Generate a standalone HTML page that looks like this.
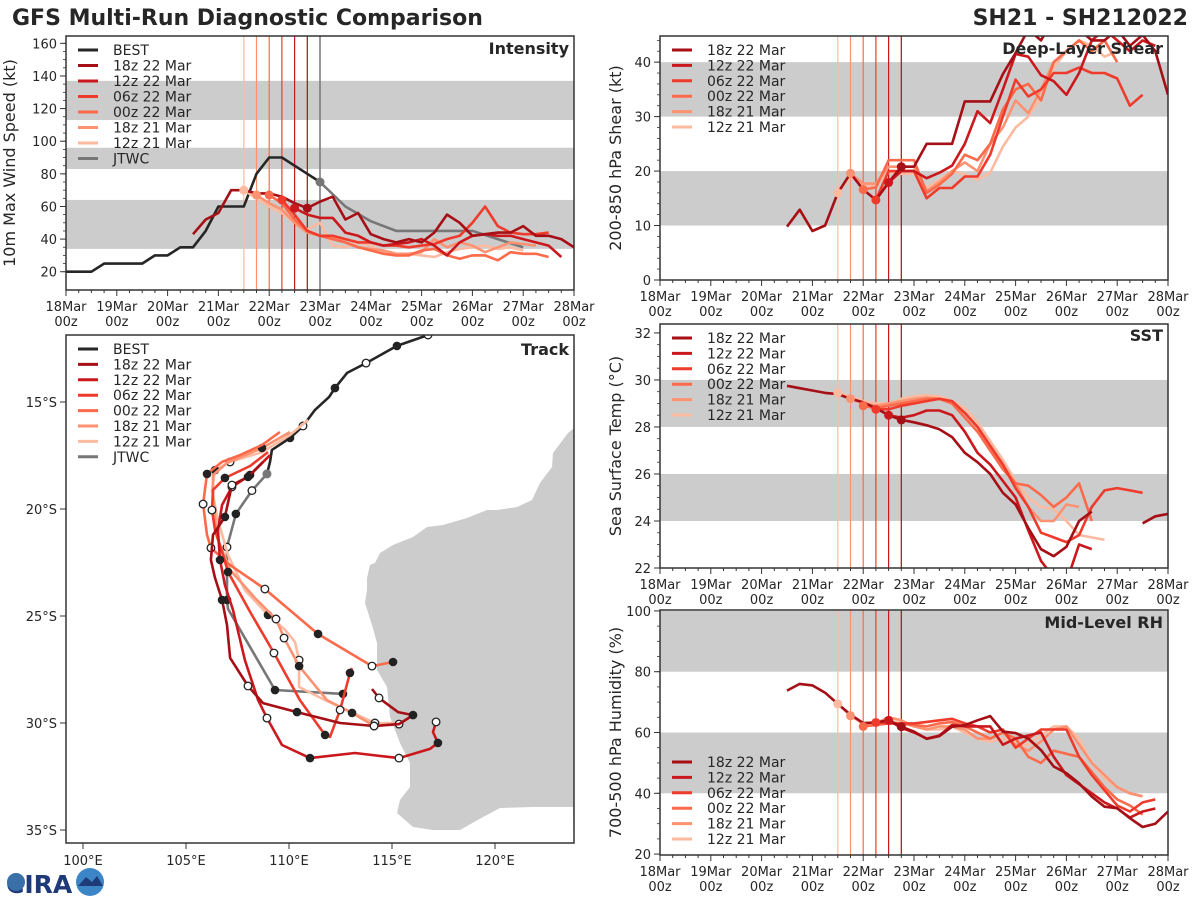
<!DOCTYPE html>
<html><head><meta charset="utf-8"><style>
html,body{margin:0;padding:0;background:#fff;}
svg{display:block;font-family:"DejaVu Sans","Liberation Sans",sans-serif;}
</style></head><body>
<svg id="fig" width="1200" height="900" viewBox="0 0 1200 900">
<text x="12" y="25" font-size="22" font-weight="bold" fill="#262626">GFS Multi-Run Diagnostic Comparison</text>
<text x="1188" y="25" font-size="22" font-weight="bold" fill="#262626" text-anchor="end">SH21 - SH212022</text>
<g>
<text x="6" y="893" font-size="25" font-weight="bold" fill="#1f3a78">CIRA</text>
<circle cx="16" cy="882" r="9" fill="#3a6fa8"/>
<circle cx="90" cy="882" r="14" fill="#3c86c8"/>
<path d="M78 886 L86 877 L92 882 L97 876 L103 886 Z" fill="#1f3a78"/>
</g>
</svg>
<script>
// ---------------- DATA ----------------
const runNames = ["18z 22 Mar","12z 22 Mar","06z 22 Mar","00z 22 Mar","18z 21 Mar","12z 21 Mar"];
const runInitHours = [114,108,102,96,90,84];
const dayLabels = ["18Mar","19Mar","20Mar","21Mar","22Mar","23Mar","24Mar","25Mar","26Mar","27Mar","28Mar"];

// Intensity (kt), 6-hourly from start hour
const intBestStart = 0;
const intBest = [20,20,20,25,25,25,25,30,30,35,35,45,60,60,60,80,90,90,85,80,75];
const intJtwcStart = 120;
const intJtwc = [75,60,51,45,45,45,45,40,35]; // 12-hourly
const intStarts = [60,108,102,96,90,84];
const int18z22 = [43,52,56,70,70,68,68,66,62,59,63,66,52,56,43,40,38,40,38,44,55,50,42,43,44,44,48,42,42,40,35,30];
const int12z22 = [59,55,53,53,44,42,38,36,37,38,40,36,30,38,42,43,42,42,40,38,36,29];
const int06z22 = [64,55,45,42,42,40,38,38,36,36,35,36,37,40,42,50,60,48,44,43,43,44];
const int00z22 = [67,62,52,45,42,40,38,35,33,31,30,30,33,34,30,28,30,30,27,32,31,31,29];
const int18z21 = [67,62,58,50,44,42,41,38,35,34,33,31,31,32,40,35,38,36,32,35,38,37,36];
const int12z21 = [70,65,60,56,50,46,50,36,35,38,36,32,30,31,30,29,32,34,35,36,34,35,33];

// Deep-layer shear (kt)
const shrStarts = [60,102,102,96,90,84];
const shr18z22 = [9.8,12.9,9,10,16,19.6,16.6,14.7,17.9,20.8,20.8,25,25,25,32.8,32.8,32.8,37.8,41.7,46,44,48,47,46,44,44,46,43,45,42,34];
const shr12z22 = [14.7,17.9,20,20,18.7,19.7,21,25,31,28.8,35,41.5,41,37.6,36.5,34,38,44,46,44,42,44,43];
const shr06z22 = [14.7,20,20,20,15,16.9,16.9,19,19,23,30,36.8,33.7,35,38,38,39,38,38,37,32,34];
const shr00z22 = [16.6,17,22,22,22,16,17.5,19.5,23,22,25,31.3,35,36,33,40,42,44,42,44,40];
const shr18z21 = [19.6,17.7,17.7,20.8,20.8,20.8,16.3,18,20,21.6,20,25,28,33,30.6,35,40,42,44,42,44,40];
const shr12z21 = [16,19,17.4,17.4,19.7,19.5,19.5,16.9,18.4,20,19.4,18.4,19.7,24.5,28,30,33.6,39,42,44,43,41,42];

// SST (deg C)
const sstStarts = [60,108,102,96,90,84];
const sst18z22 = [29.75,29.65,29.55,29.45,29.4,29.2,29.05,28.8,28.5,28.3,28.2,28.07,27.9,27.57,26.9,26.5,26.0,25.2,24.7,23.7,22.8,22.5,22.9,24.0,24.4,null,null,null,23.9,24.2,24.3];
const sst12z22 = [28.5,28.4,28.5,28.7,28.7,28.5,27.8,26.9,26.4,25.7,25.0,23.6,22.3,21.6,21.4,23.0,22.8];
const sst06z22 = [28.75,28.75,28.9,29.0,29.1,29.2,29.1,28.6,28.0,27.2,26.4,25.4,24.6,23.5,23.3,23.1,23.4,24.6,25.3,25.4,25.3,25.2];
const sst00z22 = [28.9,28.8,28.9,29.0,29.1,29.2,29.2,29.0,28.4,27.8,27.0,26.2,25.6,25.5,25.1,24.6,25.0,25.6,24.0];
const sst18z21 = [29.2,29.0,28.9,29.0,29.1,29.2,29.25,29.2,29.0,28.6,28.0,27.2,26.4,25.6,24.6,24.0,24.0,24.7,24.6];
const sst12z21 = [29.45,29.3,29.1,29.0,29.0,29.2,29.3,29.35,29.3,29.1,28.8,28.2,27.4,26.6,25.7,25.0,24.6,24.5,24.0,23.4,23.3,23.2];

// Mid-level RH (%)
const rhStarts = [60,108,102,96,90,84];
const rh18z22 = [73.8,76,75.5,73.1,69.4,65.9,63.1,63.3,64,61.9,60.3,57.9,58.8,61.9,62.4,64,65.4,60.3,59.8,58,54.2,48.8,46.6,43.3,38.9,35.6,35.1,31.8,28.9,30,34];
const rh12z22 = [64,61.5,60,58,59,62.5,62,62,62,56,58,59,60,52,46,43,40,37,35,32,34,35];
const rh06z22 = [63.3,63,63,63,63.5,64,64.5,63,62,60,61,55,58,61,61,61,52,46,41,36,34,37,38];
const rh00z22 = [62,62.5,63,63,62.5,62,63,63.5,62,60,58,60,58,52,50,54,53,52,47,42,38,36,33];
const rh18z21 = [65.5,63,63,65,64,62,61,62,62,61,58,58,60,56,54,57,61,62,56,50,46,42,40,39];
const rh12z21 = [69.4,65.5,63,63.5,64,63,62,61,61,62,60,58,57,58,56,56,59,62,62,58,50,45,42,40,39];

// Tracks (longitude E, latitude S)
const trkBestLon = [116.75,115.24,113.74,112.82,112.23,111.94,111.26,110.68,110.05,109.17,109.08,108.93];
const trkBestLat = [11.87,12.38,13.18,13.64,14.35,14.77,15.37,16.12,16.68,17.24,17.80,18.36];
const trkJtwcLon = [108.93,108.2,107.42,106.99,106.99,107.04,109.32,112.62];
const trkJtwcLat = [18.36,19.14,20.23,21.78,24.25,24.67,28.46,28.64];
const trk18z22Lon = [108.74,108.01,107.23,106.89,106.31,106.21,106.41,106.75,106.99,107.14,108.01,108.74,110.39,112.48,114.13,115.34,116.02,115.29,114.37,114.03];
const trk18z22Lat = [17.80,18.50,18.88,20.37,21.21,22.38,23.22,24.25,25.42,26.96,28.27,29.07,29.49,30.0,30.14,30.05,29.63,29.49,28.83,28.41];
const trk12z22Lon = [109.08,108.11,107.23,106.75,106.55,106.65,106.89,107.28,107.86,108.50,108.93,109.66,111.02,113.20,115.34,116.84,117.23,116.99,117.14];
const trk12z22Lat = [17.48,18.41,18.97,19.81,20.98,22.38,23.55,24.72,27.06,28.93,29.77,31.03,31.64,31.40,31.64,31.21,30.93,30.42,29.95];
const trk06z22Lon = [108.98,108.11,106.89,106.31,106.26,106.41,106.75,107.04,108.11,109.27,110.53,111.75,111.99,112.48,112.96,113.06];
const trk06z22Lat = [17.34,17.99,18.55,19.11,20.05,20.98,22.01,22.94,24.81,26.73,28.93,30.56,30.65,29.39,27.66,27.43];
const trk00z22Lon = [109.56,108.69,107.62,106.75,106.02,105.83,106.02,106.21,107.14,108.83,111.41,114.03,115.05];
const trk00z22Lat = [16.40,17.01,17.48,17.80,18.36,19.77,21.21,21.82,22.62,23.74,25.84,27.34,27.15];
const trk18z21Lon = [110.05,108.69,106.99,106.31,106.31,106.50,107.14,108.35,109.37,109.76,110.49,111.84,113.06,114.13,115.34,116.02];
const trk18z21Lat = [16.40,17.15,17.85,18.41,19.35,21.31,22.85,24.16,25.14,26.03,27.34,28.93,29.53,30.14,30.05,29.63];
const trk12z21Lon = [110.92,110.05,108.69,107.14,106.41,106.26,106.55,107.04,107.86,108.98,109.81,110.29,110.49,110.49,111.75,114.17,115.39];
const trk12z21Lat = [15.84,16.54,17.34,17.80,18.18,19.11,20.51,22.15,23.79,24.95,25.65,26.21,27.06,28.32,28.93,30.0,30.0];
// marker indices: black = filled, white = open
const mkBestBlack = [1,4,8], mkBestWhite = [0,2,7];
const mkJtwcBlack = [2,4,6,7], mkJtwcWhite = [1,3];
const mkRunBlack = [[1,3,7,12,16],[1,5,12,16],[2,7,11,14],[4,10,12],[1,10,12],[4,9]];
const mkRunWhite = [[2,10,14,18],[2,10,14,18],[4,9,13],[5,7,9,11],[8,9,13,14],[3,12,15]];

// ---------------- DRAWING ----------------
const NS = "http://www.w3.org/2000/svg";
const svg = document.getElementById("fig");
const runColors = ["#a50f15","#cb181d","#ef3b2c","#fb6a4a","#fc9272","#fcbba1"];
function mk(tag, attrs, parent) {
  const e = document.createElementNS(NS, tag);
  for (const k in attrs) e.setAttribute(k, attrs[k]);
  (parent || svg).appendChild(e);
  return e;
}
function txt(x, y, s, size, anchor, parent, weight) {
  const t = mk("text", {x: x, y: y, "font-size": size, "text-anchor": anchor || "start", fill: "#262626"}, parent);
  if (weight) t.setAttribute("font-weight", weight);
  t.textContent = s;
  return t;
}
let clipId = 0;

function timePanel(cfg) {
  const g = mk("g", {});
  
  
  const L = cfg.l, T = cfg.t, W = cfg.w, H = cfg.h;
  const xs = h => L + h / 240 * W;
  const ys = v => T + H - (v - cfg.ymin) / (cfg.ymax - cfg.ymin) * H;
  const cid = "clip" + (clipId++);
  const cp = mk("clipPath", {id: cid}, g);
  mk("rect", {x: L, y: T, width: W, height: H}, cp);
  const inner = mk("g", {"clip-path": "url(#" + cid + ")"}, g);
  cfg.bands.forEach(b => {
    const r = mk("rect", {x: L, y: ys(b[1]), width: W, height: ys(b[0]) - ys(b[1]), fill: "#cccccc"}, inner);
    
    
  });
  runInitHours.forEach((h, i) => {
    const l = mk("line", {x1: xs(h), x2: xs(h), y1: T, y2: T + H, stroke: runColors[i], "stroke-width": 1.2}, inner);
    
    
  });
  if (cfg.jtwcLine) {
    const l = mk("line", {x1: xs(120), x2: xs(120), y1: T, y2: T + H, stroke: "#777", "stroke-width": 1.5}, inner);
    
    
  }
  function series(start, step, vals, color, name, width) {
    let d = "", pen = false;
    vals.forEach((v, i) => {
      if (v === null) { pen = false; return; }
      d += (pen ? "L" : "M") + xs(start + i * step).toFixed(1) + " " + ys(v).toFixed(1);
      pen = true;
    });
    const p = mk("path", {d: d, fill: "none", stroke: color, "stroke-width": width || 2.6, "stroke-linejoin": "round"}, inner);
    
    
  }
  if (cfg.best) series(intBestStart, 6, intBest, "#262626", "best-line");
  if (cfg.jtwc) series(intJtwcStart, 12, intJtwc, "#777", "jtwc-line");
  for (let i = 5; i >= 0; i--) series(cfg.starts[i], 6, cfg.runs[i], runColors[i], "run-line-" + runNames[i].replace(/ /g, "").toLowerCase());
  for (let i = 5; i >= 0; i--) {
    const idx = (runInitHours[i] - cfg.starts[i]) / 6;
    const v = cfg.runs[i][idx];
    if (v == null) continue;
    const c = mk("circle", {cx: xs(runInitHours[i]), cy: ys(v), r: 4.5, fill: runColors[i]}, inner);
    
    
  }
  if (cfg.jtwc) {
    const c = mk("circle", {cx: xs(120), cy: ys(intJtwc[0]), r: 4.5, fill: "#777"}, inner);
    
    
  }
  const fr = mk("rect", {x: L, y: T, width: W, height: H, fill: "none", stroke: "#333", "stroke-width": 1.5}, g);
  
  
  for (let h = 0; h <= 240; h += 6) {
    const major = h % 24 === 0;
    mk("line", {x1: xs(h), x2: xs(h), y1: T + H, y2: T + H + (major ? 6 : 3), stroke: "#333", "stroke-width": 1}, g);
    if (major) {
      const t1 = txt(xs(h), T + H + 21, dayLabels[h / 24], 13, "middle", g);
      
      
      const t2 = txt(xs(h), T + H + 36, "00z", 13, "middle", g);
      
      
    }
  }
  cfg.yticks.forEach(v => {
    mk("line", {x1: L - 6, x2: L, y1: ys(v), y2: ys(v), stroke: "#333", "stroke-width": 1}, g);
    const t = txt(L - 9, ys(v) + 5, String(v), 13, "end", g);
    
    
  });
  for (let v = cfg.yticks[0]; v <= cfg.ymax; v += cfg.minor) {
    if (v < cfg.ymin) continue;
    mk("line", {x1: L - 3, x2: L, y1: ys(v), y2: ys(v), stroke: "#333", "stroke-width": 0.8}, g);
  }
  const yl = txt(0, 0, cfg.ylabel, 16, "middle", g);
  yl.setAttribute("transform", "translate(" + cfg.ylx + "," + (T + H / 2) + ") rotate(-90)");
  
  
  const pt = txt(L + W - 5, cfg.titleY, cfg.title, 16, "end", g, "bold");
  
  
  const entries = [];
  if (cfg.best) entries.push(["BEST", "#262626"]);
  runNames.forEach((n, i) => entries.push([n, runColors[i]]));
  if (cfg.jtwc) entries.push(["JTWC", "#777"]);
  entries.forEach((e, i) => {
    const y = cfg.legY + i * cfg.legDy;
    const lg = mk("g", {}, g);
    
    
    mk("line", {x1: L + 12, x2: L + 32, y1: y, y2: y, stroke: e[1], "stroke-width": 3}, lg);
    txt(L + 47, y + 5, e[0], 14, "start", lg);
  });
}

timePanel({name: "intensity-panel", l: 66, t: 36, w: 508, h: 254, ymin: 8.8, ymax: 164.5,
  bands: [[34, 64], [83, 96], [113, 137]], yticks: [20,40,60,80,100,120,140,160], minor: 5,
  best: true, jtwc: true, jtwcLine: true,
  starts: intStarts, runs: [int18z22,int12z22,int06z22,int00z22,int18z21,int12z21],
  ylabel: "10m Max Wind Speed (kt)", ylx: 15, title: "Intensity", titleY: 54, legY: 50, legDy: 15.5});
timePanel({name: "shear-panel", l: 660, t: 36, w: 508, h: 244, ymin: 0, ymax: 44.8,
  bands: [[10, 20], [30, 40]], yticks: [0,10,20,30,40], minor: 2,
  starts: shrStarts, runs: [shr18z22,shr12z22,shr06z22,shr00z22,shr18z21,shr12z21],
  ylabel: "200-850 hPa Shear (kt)", ylx: 621, title: "Deep-Layer Shear", titleY: 54, legY: 50, legDy: 15.4});
timePanel({name: "sst-panel", l: 660, t: 324, w: 508, h: 244, ymin: 22, ymax: 32.38,
  bands: [[24, 26], [28, 30]], yticks: [22,24,26,28,30,32], minor: 0.5,
  starts: sstStarts, runs: [sst18z22,sst12z22,sst06z22,sst00z22,sst18z21,sst12z21],
  ylabel: "Sea Surface Temp (°C)", ylx: 621, title: "SST", titleY: 341, legY: 338, legDy: 15.4});
timePanel({name: "rh-panel", l: 660, t: 610, w: 508, h: 245, ymin: 19.7, ymax: 100.3,
  bands: [[40, 60], [80, 100]], yticks: [20,40,60,80,100], minor: 5,
  starts: rhStarts, runs: [rh18z22,rh12z22,rh06z22,rh00z22,rh18z21,rh12z21],
  ylabel: "700-500 hPa Humidity (%)", ylx: 621, title: "Mid-Level RH", titleY: 628, legY: 762, legDy: 15.4});

// ---------------- TRACK MAP ----------------
(function () {
  const L = 66, T = 335, W = 508, H = 508;
  const lonx = lon => 83 + (lon - 100) * 20.6;
  const laty = lat => 402 + (lat - 15) * 21.4;
  const g = mk("g", {});
  
  
  const cp = mk("clipPath", {id: "trkclip"}, g);
  mk("rect", {x: L, y: T, width: W, height: H}, cp);
  const inner = mk("g", {"clip-path": "url(#trkclip)"}, g);
  const land = mk("polygon", {fill: "#cccccc", points:
    "568,433 574,428 590,420 590,860 574,860 573,807 533,807 500,808 483,817 460,830 433,830 413,827 397,813 400,800 410,787 410,763 400,743 390,717 387,687 377,670 377,643 372,625 365,603 367,590 367,578 370,565 375,563 380,553 393,545 413,537 427,527 443,525 467,518 487,510 497,510 517,507 532,500 540,483 552,467 553,453"}, inner);
  
  
  function track(lons, lats, color, name, blacks, whites) {
    const d = lons.map((lo, i) => (i ? "L" : "M") + lonx(lo).toFixed(1) + " " + laty(lats[i]).toFixed(1)).join("");
    const p = mk("path", {d: d, fill: "none", stroke: color, "stroke-width": 2.6, "stroke-linejoin": "round"}, inner);
    
    
    blacks.forEach(i => {
      if (i >= lons.length) return;
      const c = mk("circle", {cx: lonx(lons[i]), cy: laty(lats[i]), r: 4.3, fill: "#222"}, inner);
      
      
    });
    whites.forEach(i => {
      if (i >= lons.length) return;
      const c = mk("circle", {cx: lonx(lons[i]), cy: laty(lats[i]), r: 3.8, fill: "#fff", stroke: "#222", "stroke-width": 1.3}, inner);
      
      
    });
  }
  const lonsArr = [trk18z22Lon,trk12z22Lon,trk06z22Lon,trk00z22Lon,trk18z21Lon,trk12z21Lon];
  const latsArr = [trk18z22Lat,trk12z22Lat,trk06z22Lat,trk00z22Lat,trk18z21Lat,trk12z21Lat];
  track(trkBestLon, trkBestLat, "#262626", "best-track", mkBestBlack, mkBestWhite);
  track(trkJtwcLon, trkJtwcLat, "#777", "jtwc-track", mkJtwcBlack, mkJtwcWhite);
  for (let i = 5; i >= 0; i--) track(lonsArr[i], latsArr[i], runColors[i], "run-track-" + runNames[i].replace(/ /g, "").toLowerCase(), mkRunBlack[i], mkRunWhite[i]);
  const jm = mk("circle", {cx: lonx(trkJtwcLon[0]), cy: laty(trkJtwcLat[0]), r: 4.5, fill: "#777"}, inner);
  
  
  const fr = mk("rect", {x: L, y: T, width: W, height: H, fill: "none", stroke: "#333", "stroke-width": 1.5}, g);
  
  
  [100,105,110,115,120].forEach(lo => {
    mk("line", {x1: lonx(lo), x2: lonx(lo), y1: T + H, y2: T + H + 6, stroke: "#333"}, g);
    const t = txt(lonx(lo), T + H + 22, lo + "°E", 13, "middle", g);
    
    
  });
  [15,20,25,30,35].forEach(la => {
    mk("line", {x1: L - 6, x2: L, y1: laty(la), y2: laty(la), stroke: "#333"}, g);
    const t = txt(L - 9, laty(la) + 5, la + "°S", 13, "end", g);
    
    
  });
  const pt = txt(L + W - 5, 355, "Track", 16, "end", g, "bold");
  
  
  const entries = [["BEST", "#262626"]];
  runNames.forEach((n, i) => entries.push([n, runColors[i]]));
  entries.push(["JTWC", "#777"]);
  entries.forEach((e, i) => {
    const y = 349 + i * 15.4;
    const lg = mk("g", {}, g);
    
    
    mk("line", {x1: L + 12, x2: L + 32, y1: y, y2: y, stroke: e[1], "stroke-width": 3}, lg);
    txt(L + 47, y + 5, e[0], 14, "start", lg);
  });
})();
</script>
</body></html>
